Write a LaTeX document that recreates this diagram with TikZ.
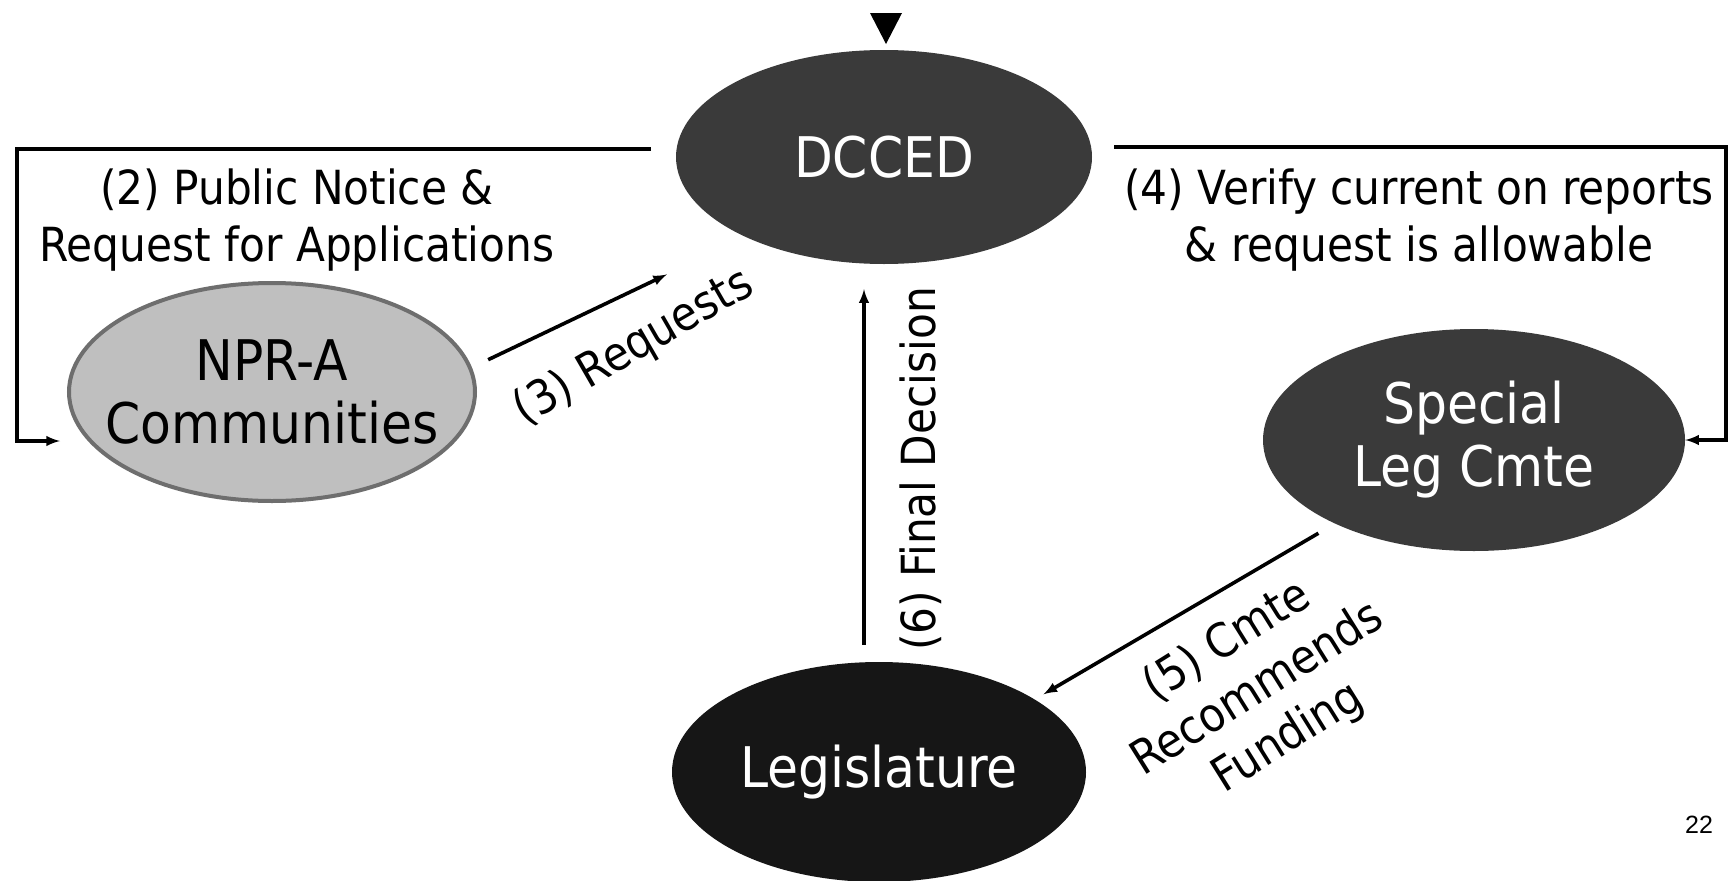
\documentclass[tikz,border=0pt]{standalone}
\usepackage{fontspec}
\setmainfont{DejaVu Sans Condensed}
\newfontfamily\pagefont{Liberation Sans}
\usepackage{xcolor}
\usepackage{tikz}
\usetikzlibrary{shapes.geometric}
\definecolor{darkfill}{HTML}{3A3A3A}
\definecolor{nightfill}{HTML}{161616}
\definecolor{palefill}{HTML}{BFBFBF}
\definecolor{paleedge}{HTML}{6E6E6E}

\begin{document}
\begin{tikzpicture}[x=1pt,y=-1pt,
		blob/.style={ellipse,inner sep=0pt,align=center,font=\fontsize{56}{63}\selectfont},
		darkblob/.style={blob,fill=darkfill,text=white},
		flow/.style={-latex,line width=3.6pt},
		lbl/.style={align=center,font=\fontsize{47}{57}\selectfont}]
		\useasboundingbox[fill=white] (0,0) rectangle (1730,881);
		\node[darkblob,minimum width=416pt,minimum height=214pt] (dcced) at (884,157) {DCCED};
		\node[blob,fill=palefill,draw=paleedge,line width=4pt,inner xsep=-26pt,minimum width=406pt,minimum height=218pt] (npra) at (272,392) {NPR-A\\Communities};
		\node[darkblob,minimum width=422pt,minimum height=222pt] (spec) at (1474,440) {Special\\Leg Cmte};
		\node[darkblob,fill=nightfill,minimum width=414pt,minimum height=220pt] (leg) at (879,772) {Legislature};
		\fill[black] (870,13) -- (902,13) -- (886,44) -- cycle;
		\coordinate (pnS) at (651,149);
		\coordinate (pnC) at (17,149);
		\coordinate (pnE) at (60,441);
		\draw[flow] (pnS) -- (pnC) |- (pnE);
		\node[lbl] (pnlbl) at (297,220) {(2) Public Notice \&\\Request for Applications};
		\coordinate (vrS) at (1114,147);
		\coordinate (vrC) at (1726,147);
		\draw[flow] (vrS) -- (vrC) |- (spec.east);
		\node[lbl] (vrlbl) at (1419,220) {(4) Verify current on reports\\\& request is allowable};
		\draw[flow,shorten <=18pt,shorten >=87pt] (npra.7) -- (dcced.210);
		\node[lbl,rotate=30] (rqlbl) at (634,348) {(3) Requests};
		\draw[flow,shorten <=19pt,shorten >=10pt] (spec.211) -- (leg.25);
		\node[lbl,rotate=32] (cmlbl) at (1258,690) {(5) Cmte\\Recommends\\Funding};
		\draw[flow] ([xshift=-15pt,yshift=17pt]leg.north) -- ([xshift=-20pt,yshift=-25pt]dcced.south);
		\node[lbl,rotate=90] (fdlbl) at (921,469) {(6) Final Decision};
		\node[font=\pagefont\fontsize{25}{30}\selectfont] (pgnum) at (1699,825) {22};
	\end{tikzpicture}
\end{document}
